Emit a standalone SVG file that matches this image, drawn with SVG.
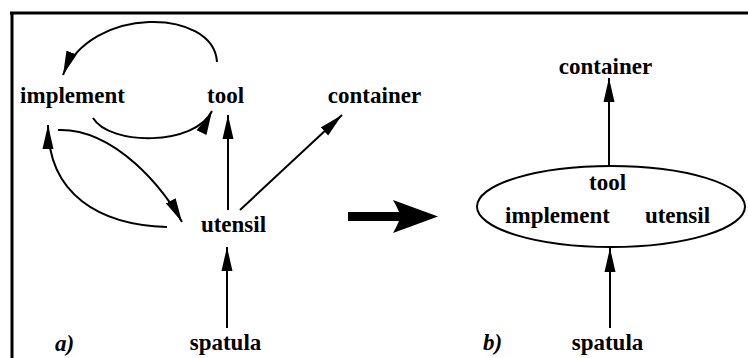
<svg xmlns="http://www.w3.org/2000/svg" width="748" height="358" viewBox="0 0 748 358">
<defs>
<style>
.lbl{font-family:"Liberation Serif","Times New Roman",serif;font-weight:bold;font-size:23px;fill:#000;text-anchor:middle}
.tag{font-family:"Liberation Serif","Times New Roman",serif;font-weight:bold;font-style:italic;font-size:23px;fill:#000}
.edge{fill:none;stroke:#000;stroke-width:2;marker-end:url(#ah)}
</style>
<marker id="ah" markerUnits="userSpaceOnUse" markerWidth="24" markerHeight="12" refX="24" refY="5.5" orient="auto" viewBox="0 0 24 11">
<path d="M0,0 L24,5.5 L0,11 Z" fill="#000"/>
</marker>
</defs>
<rect width="748" height="358" fill="#fff"/>
<path d="M10,13 L748,13 M12,13 L12,358" fill="none" stroke="#000" stroke-width="3"/>
<g id="connectors">
<path class="edge" d="M217,62 C214,8 90,5 63,75"/>
<path class="edge" d="M93,118 C110,146 195,146 212,111"/>
<path class="edge" d="M58,130 C115,128 165,190 182,222"/>
<path class="edge" d="M167,227 C100,225 48,195 48,125"/>
<path class="edge" d="M228,210 L228,115"/>
<path class="edge" d="M240,210 L342,115"/>
<path class="edge" d="M227,328 L227,247"/>
<path class="edge" d="M609,167 L609,78"/>
<path class="edge" d="M610,328 L610,248"/>
</g>
<g id="transform-arrow">
<path d="M348,212 L399,212 Q396,205 393,200 L438,216.5 L393,233 Q396,228 399,221 L348,221 Z" fill="#000"/>
</g>
<g id="a-implement"><text class="lbl" x="72.5" y="103">implement</text></g>
<g id="a-tool"><text class="lbl" x="225.5" y="103">tool</text></g>
<g id="a-container"><text class="lbl" x="374.5" y="103">container</text></g>
<g id="a-utensil"><text class="lbl" x="233.5" y="232">utensil</text></g>
<g id="a-spatula"><text class="lbl" x="225.5" y="350">spatula</text></g>
<g id="label-a"><text class="tag" x="55" y="351">a)</text></g>
<g id="b-container"><text class="lbl" x="605.5" y="74">container</text></g>
<g id="b-group">
<ellipse cx="611" cy="206.5" rx="134" ry="40.5" fill="none" stroke="#000" stroke-width="2"/>
<text class="lbl" x="607.5" y="190">tool</text>
<text class="lbl" x="557.5" y="223">implement</text>
<text class="lbl" x="677.5" y="223">utensil</text>
</g>
<g id="b-spatula"><text class="lbl" x="607.5" y="350">spatula</text></g>
<g id="label-b"><text class="tag" x="483" y="350">b)</text></g>
</svg>
